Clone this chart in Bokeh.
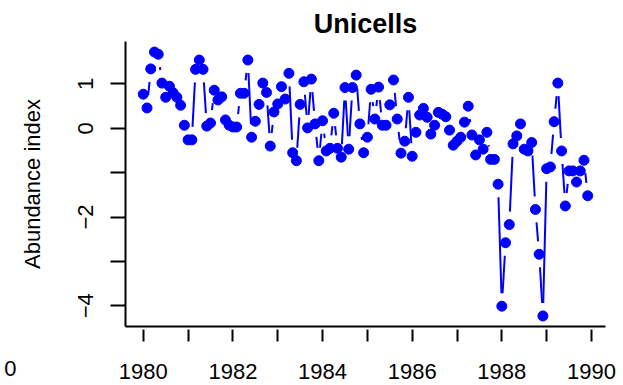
import math
from bokeh.plotting import figure
from bokeh.models import FixedTicker, Label, Range1d
from bokeh.embed import file_html
from bokeh.resources import INLINE

# ---------------- data ----------------
title_text = "Unicells"
y_label_text = "Abundance index"
start_year = 1980
values = [
    0.77, 0.46, 1.34, 1.72, 1.67, 1.02, 0.70, 0.95, 0.80, 0.70, 0.52, 0.07,      # 1980
    -0.26, -0.26, 1.33, 1.54, 1.33, 0.05, 0.12, 0.86, 0.64, 0.71, 0.19, 0.07,    # 1981
    0.03, 0.03, 0.79, 0.79, 1.54, -0.20, 0.16, 0.54, 1.02, 0.81, -0.40, 0.37,    # 1982
    0.55, 0.94, 0.66, 1.24, -0.55, -0.73, 0.54, 1.05, 0.01, 1.11, 0.10, -0.73,   # 1983
    0.17, -0.51, -0.45, 0.34, -0.45, -0.65, 0.92, -0.47, 0.92, 1.20, 0.10, -0.55,  # 1984
    -0.20, 0.88, 0.21, 0.93, 0.07, 0.07, 0.53, 1.09, 0.21, -0.56, -0.29, 0.70,   # 1985
    -0.63, -0.09, 0.30, 0.45, 0.25, -0.13, 0.07, 0.36, 0.32, 0.26, -0.04, -0.38,  # 1986
    -0.29, -0.20, 0.14, 0.50, -0.15, -0.60, -0.26, -0.47, -0.09, -0.70, -0.70, -1.26,  # 1987
    -4.01, -2.58, -2.17, -0.35, -0.17, 0.10, -0.47, -0.51, -0.32, -1.83, -2.84, -4.23,  # 1988
    -0.91, -0.87, 0.15, 1.02, -0.51, -1.75, -0.96, -0.96, -1.21, -0.96, -0.72, -1.52,  # 1989
]
years = [start_year + i / 12 for i in range(len(values))]
x_ticks = list(range(1980, 1991))
x_tick_labels = {t: (str(t) if t % 2 == 0 else "") for t in x_ticks}
y_ticks = [-4, -3, -2, -1, 0, 1]
y_tick_labels = {-4: "\u22124", -3: "", -2: "\u22122", -1: "", 0: "0", 1: "1"}
stray_text = "0"

# ---------------- layout ----------------
W, H = 623, 385
BL, BR, BT, BB = 125, 18, 41, 59
FW, FH = W - BL - BR, H - BT - BB
FONT = "Liberation Sans"
BLUE = "#0000FF"

xmin, xmax = min(years), max(years)
ymin, ymax = min(values), max(values)
xpad, ypad = 0.04 * (xmax - xmin), 0.04 * (ymax - ymin)
x0, x1 = xmin - xpad, xmax + xpad
y0, y1 = ymin - ypad, ymax + ypad
sx, sy = FW / (x1 - x0), FH / (y1 - y0)

# R type="b" style broken line segments
gap = 13.0
sx0, sy0, sx1, sy1 = [], [], [], []
for i in range(len(values) - 1):
    ax, ay = years[i] * sx, values[i] * sy
    bx, by = years[i + 1] * sx, values[i + 1] * sy
    dx, dy = bx - ax, by - ay
    L = math.hypot(dx, dy)
    if L > 2 * gap:
        ux, uy = dx / L, dy / L
        sx0.append((ax + gap * ux) / sx)
        sy0.append((ay + gap * uy) / sy)
        sx1.append((bx - gap * ux) / sx)
        sy1.append((by - gap * uy) / sy)

p = figure(width=W, height=H, output_backend="svg", toolbar_location=None,
           x_range=Range1d(x0, x1), y_range=Range1d(y0, y1),
           min_border_left=BL, min_border_right=BR,
           min_border_top=BT, min_border_bottom=BB)
p.outline_line_color = None
p.grid.visible = False
p.background_fill_color = "white"
p.border_fill_color = "white"

p.segment(sx0, sy0, sx1, sy1, line_color=BLUE, line_width=2)
p.scatter(years, values, size=10, color=BLUE, line_color=BLUE)

# title
p.title.text = title_text
p.title.text_font = FONT
p.title.text_font_size = "27px"
p.title.text_font_style = "bold"
p.title.text_color = "black"
p.title.align = "center"
p.title.standoff = 6

# x axis
xa = p.xaxis[0]
xa.ticker = FixedTicker(ticks=x_ticks)
xa.major_label_overrides = {t: s for t, s in x_tick_labels.items()}
xa.minor_tick_line_color = None
xa.axis_line_width = 2
xa.major_tick_line_width = 2
xa.major_tick_out = 15
xa.major_tick_in = -3
xa.major_label_text_font = FONT
xa.major_label_text_font_size = "22px"
xa.major_label_text_color = "black"
xa.major_label_standoff = 22

# y axis
ya = p.yaxis[0]
ya.ticker = FixedTicker(ticks=y_ticks)
ya.major_label_overrides = {t: s for t, s in y_tick_labels.items()}
ya.minor_tick_line_color = None
ya.axis_line_width = 2
ya.major_tick_line_width = 2
ya.major_tick_out = 15
ya.major_tick_in = 0
ya.major_label_orientation = "vertical"
ya.major_label_text_font = FONT
ya.major_label_text_font_size = "22px"
ya.major_label_text_color = "black"
ya.major_label_standoff = 17
ya.axis_label = y_label_text
ya.axis_label_text_font = FONT
ya.axis_label_text_font_size = "22px"
ya.axis_label_text_font_style = "normal"
ya.axis_label_text_color = "black"
ya.axis_label_standoff = 31

# stray label at bottom-left, placed in the left side panel
p.add_layout(Label(x=12, y=(H - BB) - 368, x_units="screen", y_units="screen",
                   text=stray_text, text_align="right", text_baseline="middle",
                   text_font=FONT, text_font_size="22px", text_color="black"),
             "left")

open("out.html", "w").write(file_html(p, INLINE))
